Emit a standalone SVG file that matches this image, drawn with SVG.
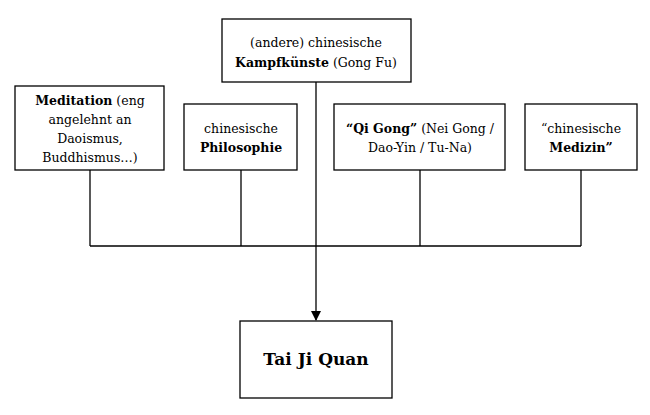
<svg xmlns="http://www.w3.org/2000/svg" width="650" height="415" viewBox="0 0 650 415">
<style>
rect{fill:#fff;stroke:#000;stroke-width:1.3}
text{font-family:"DejaVu Serif","Liberation Serif",serif;font-size:12.5px;text-anchor:middle;fill:#000}
.b{font-weight:bold}
line{stroke:#000;stroke-width:1.3}
</style>
<defs><marker id="a" markerWidth="10" markerHeight="10" refX="9" refY="5" orient="auto" markerUnits="userSpaceOnUse"><path d="M0,0 L10,5 L0,10 z"/></marker></defs>
<rect width="650" height="415" style="stroke:none"/>
<g id="connectors">
<line x1="90" y1="170" x2="90" y2="246"/>
<line x1="241" y1="170" x2="241" y2="246"/>
<line x1="420" y1="170" x2="420" y2="246"/>
<line x1="581" y1="170" x2="581" y2="246"/>
<line x1="90" y1="246" x2="581" y2="246"/>
<line x1="316" y1="82" x2="316" y2="320" marker-end="url(#a)"/>
</g>
<g id="kampf"><rect x="222" y="19" width="189" height="63"/>
<text x="316" y="47">(andere) chinesische</text>
<text x="316" y="67"><tspan class="b">Kampfkünste</tspan> (Gong Fu)</text></g>
<g id="meditation"><rect x="15" y="86" width="149" height="84"/>
<text x="90" y="105"><tspan class="b">Meditation</tspan> (eng</text>
<text x="90" y="124">angelehnt an</text>
<text x="90" y="143">Daoismus,</text>
<text x="90" y="162">Buddhismus…)</text></g>
<g id="philosophie"><rect x="184" y="104" width="113" height="66"/>
<text x="241" y="133">chinesische</text>
<text x="241" y="152" class="b">Philosophie</text></g>
<g id="qigong"><rect x="334" y="104" width="171" height="66"/>
<text x="420" y="133"><tspan class="b">“Qi Gong”</tspan> (Nei Gong /</text>
<text x="420" y="152">Dao-Yin / Tu-Na)</text></g>
<g id="medizin"><rect x="525" y="104" width="112" height="66"/>
<text x="581" y="133">“chinesische</text>
<text x="581" y="152" class="b">Medizin”</text></g>
<g id="taiji"><rect x="240" y="321" width="152" height="77"/>
<text x="316" y="365" class="b" style="font-size:17px">Tai Ji Quan</text></g>
</svg>
